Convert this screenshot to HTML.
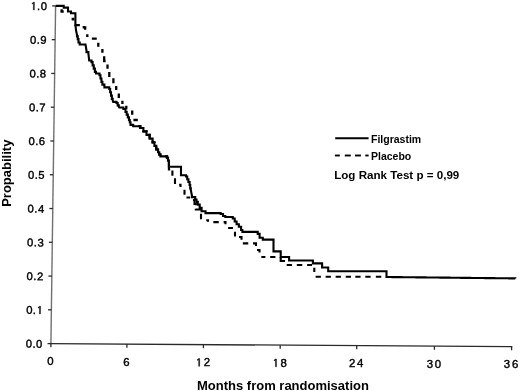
<!DOCTYPE html>
<html><head><meta charset="utf-8"><style>
html,body{margin:0;padding:0;background:#fff;}
body{width:520px;height:391px;overflow:hidden;}
svg{display:block;will-change:transform;}
text{font-family:"Liberation Sans",sans-serif;fill:#000;}
.tl{stroke:#000;stroke-width:0.4px;}
.xl{font-size:11.4px;letter-spacing:2.2px;stroke:#000;stroke-width:0.4px;}
.lg{font-size:10.5px;font-weight:bold;}
.lr{font-size:11.6px;font-weight:bold;}
.tt{font-size:13px;font-weight:bold;}
</style></head><body>
<svg width="520" height="391" viewBox="0 0 520 391">
<line x1="50.9" y1="344.20000000000005" x2="55.6" y2="5.9" stroke="#707070" stroke-width="1.4" fill="none"/>
<line x1="50.4" y1="343.6" x2="512.3" y2="346.7" stroke="#2a2a2a" stroke-width="1.3" fill="none"/>
<line x1="47.50" y1="343.60" x2="50.90" y2="343.60" stroke="#2a2a2a" stroke-width="1.3" fill="none"/>
<g transform="rotate(0.8 42.30 343.60)"><text x="25.73" y="347.80" class="tl" style="font-size:11.2px">0</text><text x="32.46" y="347.80" class="tl" style="font-size:11.2px">.</text><text x="36.07" y="347.80" class="tl" style="font-size:11.2px">0</text></g>
<line x1="47.97" y1="309.83" x2="51.37" y2="309.83" stroke="#2a2a2a" stroke-width="1.3" fill="none"/>
<g transform="rotate(0.8 42.77 309.83)"><text x="26.20" y="314.03" class="tl" style="font-size:11.2px">0</text><text x="32.93" y="314.03" class="tl" style="font-size:11.2px">.</text><path d="M540,1225 L290,1060 L290,1215 L560,1409 L720,1409 L720,0 L540,0 Z" transform="translate(36.54,314.03) scale(0.00547,-0.00547)" fill="#000" stroke="#000" stroke-width="0.4" vector-effect="non-scaling-stroke"/></g>
<line x1="48.44" y1="276.06" x2="51.84" y2="276.06" stroke="#2a2a2a" stroke-width="1.3" fill="none"/>
<g transform="rotate(0.8 43.24 276.06)"><text x="26.67" y="280.26" class="tl" style="font-size:11.2px">0</text><text x="33.40" y="280.26" class="tl" style="font-size:11.2px">.</text><text x="37.01" y="280.26" class="tl" style="font-size:11.2px">2</text></g>
<line x1="48.91" y1="242.29" x2="52.31" y2="242.29" stroke="#2a2a2a" stroke-width="1.3" fill="none"/>
<g transform="rotate(0.8 43.71 242.29)"><text x="27.14" y="246.49" class="tl" style="font-size:11.2px">0</text><text x="33.87" y="246.49" class="tl" style="font-size:11.2px">.</text><text x="37.48" y="246.49" class="tl" style="font-size:11.2px">3</text></g>
<line x1="49.38" y1="208.52" x2="52.78" y2="208.52" stroke="#2a2a2a" stroke-width="1.3" fill="none"/>
<g transform="rotate(0.8 44.18 208.52)"><text x="27.61" y="212.72" class="tl" style="font-size:11.2px">0</text><text x="34.34" y="212.72" class="tl" style="font-size:11.2px">.</text><text x="37.95" y="212.72" class="tl" style="font-size:11.2px">4</text></g>
<line x1="49.85" y1="174.75" x2="53.25" y2="174.75" stroke="#2a2a2a" stroke-width="1.3" fill="none"/>
<g transform="rotate(0.8 44.65 174.75)"><text x="28.08" y="178.95" class="tl" style="font-size:11.2px">0</text><text x="34.81" y="178.95" class="tl" style="font-size:11.2px">.</text><text x="38.42" y="178.95" class="tl" style="font-size:11.2px">5</text></g>
<line x1="50.32" y1="140.98" x2="53.72" y2="140.98" stroke="#2a2a2a" stroke-width="1.3" fill="none"/>
<g transform="rotate(0.8 45.12 140.98)"><text x="28.55" y="145.18" class="tl" style="font-size:11.2px">0</text><text x="35.28" y="145.18" class="tl" style="font-size:11.2px">.</text><text x="38.89" y="145.18" class="tl" style="font-size:11.2px">6</text></g>
<line x1="50.79" y1="107.21" x2="54.19" y2="107.21" stroke="#2a2a2a" stroke-width="1.3" fill="none"/>
<g transform="rotate(0.8 45.59 107.21)"><text x="29.02" y="111.41" class="tl" style="font-size:11.2px">0</text><text x="35.75" y="111.41" class="tl" style="font-size:11.2px">.</text><text x="39.36" y="111.41" class="tl" style="font-size:11.2px">7</text></g>
<line x1="51.26" y1="73.44" x2="54.66" y2="73.44" stroke="#2a2a2a" stroke-width="1.3" fill="none"/>
<g transform="rotate(0.8 46.06 73.44)"><text x="29.49" y="77.64" class="tl" style="font-size:11.2px">0</text><text x="36.22" y="77.64" class="tl" style="font-size:11.2px">.</text><text x="39.83" y="77.64" class="tl" style="font-size:11.2px">8</text></g>
<line x1="51.73" y1="39.67" x2="55.13" y2="39.67" stroke="#2a2a2a" stroke-width="1.3" fill="none"/>
<g transform="rotate(0.8 46.53 39.67)"><text x="29.96" y="43.87" class="tl" style="font-size:11.2px">0</text><text x="36.69" y="43.87" class="tl" style="font-size:11.2px">.</text><text x="40.30" y="43.87" class="tl" style="font-size:11.2px">9</text></g>
<line x1="52.20" y1="5.90" x2="55.60" y2="5.90" stroke="#2a2a2a" stroke-width="1.3" fill="none"/>
<g transform="rotate(0.8 47.00 5.90)"><path d="M540,1225 L290,1060 L290,1215 L560,1409 L720,1409 L720,0 L540,0 Z" transform="translate(30.43,10.10) scale(0.00547,-0.00547)" fill="#000" stroke="#000" stroke-width="0.4" vector-effect="non-scaling-stroke"/><text x="37.16" y="10.10" class="tl" style="font-size:11.2px">.</text><text x="40.77" y="10.10" class="tl" style="font-size:11.2px">0</text></g>
<line x1="50.90" y1="343.60" x2="50.90" y2="347.20" stroke="#2a2a2a" stroke-width="1.3" fill="none"/>
<g><text x="47.23" y="365.30" class="tl" style="font-size:11.4px">0</text></g>
<line x1="126.90" y1="344.11" x2="126.90" y2="347.71" stroke="#2a2a2a" stroke-width="1.3" fill="none"/>
<g><text x="123.23" y="365.81" class="tl" style="font-size:11.4px">6</text></g>
<line x1="203.40" y1="344.62" x2="203.40" y2="348.22" stroke="#2a2a2a" stroke-width="1.3" fill="none"/>
<g><path d="M540,1225 L290,1060 L290,1215 L560,1409 L720,1409 L720,0 L540,0 Z" transform="translate(195.66,366.32) scale(0.00557,-0.00557)" fill="#000" stroke="#000" stroke-width="0.4" vector-effect="non-scaling-stroke"/><text x="203.80" y="366.32" class="tl" style="font-size:11.4px">2</text></g>
<line x1="280.20" y1="345.14" x2="280.20" y2="348.74" stroke="#2a2a2a" stroke-width="1.3" fill="none"/>
<g><path d="M540,1225 L290,1060 L290,1215 L560,1409 L720,1409 L720,0 L540,0 Z" transform="translate(272.46,366.84) scale(0.00557,-0.00557)" fill="#000" stroke="#000" stroke-width="0.4" vector-effect="non-scaling-stroke"/><text x="280.60" y="366.84" class="tl" style="font-size:11.4px">8</text></g>
<line x1="356.70" y1="345.65" x2="356.70" y2="349.25" stroke="#2a2a2a" stroke-width="1.3" fill="none"/>
<g><text x="348.96" y="367.35" class="tl" style="font-size:11.4px">2</text><text x="357.10" y="367.35" class="tl" style="font-size:11.4px">4</text></g>
<line x1="434.40" y1="346.18" x2="434.40" y2="349.78" stroke="#2a2a2a" stroke-width="1.3" fill="none"/>
<g><text x="426.66" y="367.88" class="tl" style="font-size:11.4px">3</text><text x="434.80" y="367.88" class="tl" style="font-size:11.4px">0</text></g>
<line x1="511.60" y1="346.70" x2="511.60" y2="350.30" stroke="#2a2a2a" stroke-width="1.3" fill="none"/>
<g><text x="503.86" y="368.40" class="tl" style="font-size:11.4px">3</text><text x="512.00" y="368.40" class="tl" style="font-size:11.4px">6</text></g>
<path d="M55.6,5.9 H61.6 V11.5 H72.8 V19.4 H75.6 V25.1 H83.8 V27.3 H85.2 V33.5 H87.3 V38.6 H98.3 V47.5 H102.4 V53.5 H104.2 V61 H107.5 V69 H109.3 V77 H113.4 V84 H116.2 V91.5 H118.8 V98.8 H122.4 V104.5 H126.3 V109.5 H132.2 V120 H138.3 V126.2" stroke="#000" stroke-width="2.3" fill="none" stroke-linejoin="miter" stroke-dasharray="0.00 9.28 4.43 15.28 3.34 6.22 4.90 4.82 5.25 6.43 2.90 6.10 4.90 5.82 3.87 6.45 3.75 5.10 6.27 5.33 4.30 5.10 4.90 5.40 5.00 5.60 3.90 6.21 4.38 6.41 3.30 5.70 3.30 7.20 4.40 6.40 4.35 7.70 0.00"/>
<path d="M168.9,162 V169.5 H172.4 V177.3 H175 V184.8 H180.5 V189.5 H184.5 V196 H187.5 V197.5 H192 V200 H194.5 V204 H195.8 V209.5 H201 V220.3 H208 V222.1 H225.5 V228 H235 V237 H241.5 V243.4 H256 V250 H259.5 V257 H280.7 V261 H286 V265 H314.3 V276.8 H386.5" stroke="#000" stroke-width="2.1" fill="none" stroke-linejoin="miter" stroke-dasharray="0.00 0.00 8.75 3.20 5.35 4.95 5.90 4.90 3.67 6.73 5.00 4.70 3.70 5.20 8.00 3.70 6.90 3.20 5.40 6.40 3.19 5.71 5.40 4.90 4.10 6.30 4.80 5.80 4.70 4.60 5.10 5.10 5.40 4.80 5.57 4.98 4.95 6.40 4.06 4.76 5.26 4.76 8.80 5.70 5.25 4.90 5.45 4.85 4.85 5.05 4.35 6.05 5.25 4.75 5.25 4.75 5.25 4.85 5.25 4.35 5.25 4.75 5.25 5.25 5.45 6.15 0.00"/>
<path d="M138.3,126.2 L140.30,126.20 L140.30,127.93 L143.40,127.93 L143.40,131.40 L146.50,131.40 L146.50,134.87 L149.60,134.87 L149.60,136.60 L149.60,138.65 L152.60,138.65 L152.60,140.70 L152.60,142.43 L154.43,142.43 L154.43,145.90 L156.27,145.90 L156.27,149.37 L158.10,149.37 L158.10,151.10 L158.10,152.25 L159.25,152.25 L159.25,154.55 L160.40,154.55 L160.40,155.70 L160.40,156.40 L167.00,156.40 L167.00,157.80 L167.95,157.80 L167.95,160.60 L168.90,160.60 L168.90,162.00" stroke="#000" stroke-width="2.3" fill="none" stroke-linejoin="miter" stroke-dasharray="4.5 5"/>
<path d="M55.60,5.90 63.70,5.90 63.70,7.60 68.00,7.60 68.00,11.50 71.00,11.50 71.00,13.30 75.40,13.30 75.40,24.50 76.00,30.00 77.00,35.00 77.00,36.38 77.75,36.38 77.75,39.12 78.50,39.12 78.50,40.50 78.50,42.50 79.70,42.50 79.70,44.50 85.50,44.50 86.50,50.50 86.50,52.15 88.40,52.15 88.40,53.80 89.20,60.50 91.50,60.50 91.50,62.12 92.62,62.12 92.62,65.38 93.75,65.38 93.75,68.62 94.88,68.62 94.88,71.88 96.00,71.88 96.00,73.50 99.50,73.50 99.50,75.18 100.47,75.18 100.47,78.55 101.43,78.55 101.43,81.92 102.40,81.92 102.40,83.60 102.40,84.65 104.40,84.65 104.40,85.70 104.40,87.40 109.30,87.40 109.30,89.04 110.15,89.04 110.15,92.31 111.00,92.31 111.00,95.59 111.85,95.59 111.85,98.86 112.70,98.86 112.70,100.50 113.20,101.90 116.50,101.90 116.50,103.05 117.65,103.05 117.65,105.35 118.80,105.35 118.80,106.50 119.30,107.50 123.40,107.50 123.40,109.00 125.50,109.00 125.50,110.50 125.50,111.88 126.67,111.88 126.67,114.65 127.83,114.65 127.83,117.42 129.00,117.42 129.00,118.80 129.00,119.97 129.75,119.97 129.75,122.32 130.50,122.32 130.50,123.50 130.50,124.85 133.20,124.85 133.20,126.20 140.30,126.20 140.30,127.93 143.40,127.93 143.40,131.40 146.50,131.40 146.50,134.87 149.60,134.87 149.60,136.60 149.60,138.65 152.60,138.65 152.60,140.70 152.60,142.43 154.43,142.43 154.43,145.90 156.27,145.90 156.27,149.37 158.10,149.37 158.10,151.10 158.10,152.25 159.25,152.25 159.25,154.55 160.40,154.55 160.40,155.70 160.40,156.40 167.00,156.40 167.00,157.80 167.95,157.80 167.95,160.60 168.90,160.60 168.90,162.00 168.90,166.70 181.00,166.70 181.00,175.20 186.00,175.20 186.00,176.57 187.20,176.57 187.20,179.30 188.40,179.30 188.40,182.03 189.60,182.03 189.60,183.40 189.60,185.05 190.20,185.05 190.20,188.35 190.80,188.35 190.80,190.00 192.00,196.00 192.00,197.15 195.20,197.15 195.20,198.30 195.20,199.48 196.50,199.48 196.50,201.83 197.80,201.83 197.80,203.00 197.80,204.62 199.70,204.62 199.70,207.88 201.60,207.88 201.60,209.50 201.60,211.30 205.50,211.30 205.50,213.10 220.70,213.10 220.70,214.07 223.00,214.07 223.00,216.02 225.30,216.02 225.30,217.00 232.80,217.00 232.80,218.47 234.70,218.47 234.70,221.43 236.60,221.43 236.60,222.90 236.60,224.18 238.85,224.18 238.85,226.73 241.10,226.73 241.10,228.00 241.10,229.95 242.40,229.95 242.40,231.90 257.70,231.90 257.70,233.85 259.60,233.85 259.60,235.80 259.60,237.70 262.80,237.70 262.80,239.60 273.50,239.60 273.50,251.40 280.70,251.40 280.70,257.00 289.10,257.00 289.10,260.50 312.90,260.50 312.90,263.40 322.10,263.40 322.10,267.50 328.20,267.50 328.20,271.30 386.50,271.30 386.50,277.00 386.50,277.02 389.50,277.02 389.50,277.05 392.49,277.05 392.49,277.08 395.49,277.08 395.49,277.11 398.48,277.11 398.48,277.15 401.48,277.15 401.48,277.18 404.47,277.18 404.47,277.21 407.47,277.21 407.47,277.24 410.46,277.24 410.46,277.28 413.46,277.28 413.46,277.31 416.45,277.31 416.45,277.34 419.45,277.34 419.45,277.37 422.44,277.37 422.44,277.41 425.44,277.41 425.44,277.44 428.43,277.44 428.43,277.47 431.43,277.47 431.43,277.50 434.43,277.50 434.43,277.54 437.42,277.54 437.42,277.57 440.42,277.57 440.42,277.60 443.41,277.60 443.41,277.63 446.41,277.63 446.41,277.67 449.40,277.67 449.40,277.70 452.40,277.70 452.40,277.73 455.39,277.73 455.39,277.77 458.39,277.77 458.39,277.80 461.38,277.80 461.38,277.83 464.38,277.83 464.38,277.86 467.37,277.86 467.37,277.90 470.37,277.90 470.37,277.93 473.37,277.93 473.37,277.96 476.36,277.96 476.36,277.99 479.36,277.99 479.36,278.03 482.35,278.03 482.35,278.06 485.35,278.06 485.35,278.09 488.34,278.09 488.34,278.12 491.34,278.12 491.34,278.16 494.33,278.16 494.33,278.19 497.33,278.19 497.33,278.22 500.32,278.22 500.32,278.25 503.32,278.25 503.32,278.29 506.31,278.29 506.31,278.32 509.31,278.32 509.31,278.35 512.30,278.35 512.30,278.38 515.30,278.38 515.30,278.40" stroke="#000" stroke-width="2.1" fill="none" stroke-linejoin="miter" stroke-miterlimit="2"/>
<line x1="335.2" y1="138.2" x2="368.6" y2="138.2" stroke="#000" stroke-width="1.9"/>
<line x1="334.9" y1="155.5" x2="339.8" y2="155.5" stroke="#000" stroke-width="1.9"/>
<line x1="344.8" y1="155.5" x2="350.8" y2="155.5" stroke="#000" stroke-width="1.9"/>
<line x1="355" y1="155.5" x2="360.9" y2="155.5" stroke="#000" stroke-width="1.9"/>
<line x1="365.3" y1="155.5" x2="368.6" y2="155.5" stroke="#000" stroke-width="1.9"/>
<text x="371" y="142.7" class="lg">Filgrastim</text>
<text x="371" y="160" class="lg">Placebo</text>
<text x="334.2" y="178.9" class="lr">Log Rank Test p = 0,99</text>
<text x="197" y="389.6" class="tt">Months from randomisation</text>
<text transform="translate(10.8,206.8) rotate(-90)" class="tt">Propability</text>
</svg>
</body></html>
